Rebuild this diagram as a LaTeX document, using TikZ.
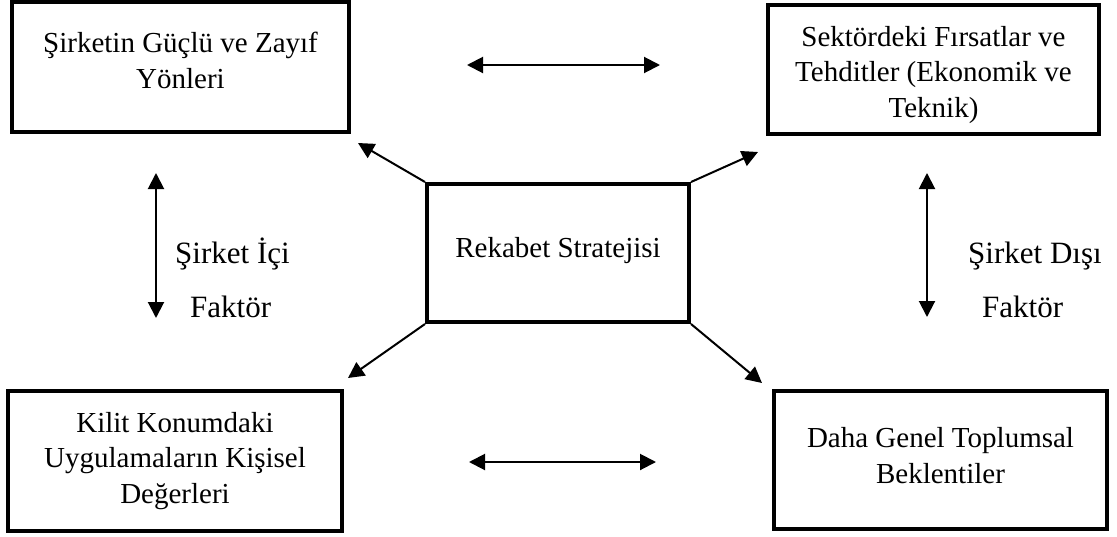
\documentclass[tikz,border=0pt]{standalone}
\usepackage{fontspec}
\setmainfont{Liberation Serif}
\usetikzlibrary{arrows.meta}
\tikzset{
  box/.style={draw, line width=4pt, inner sep=0pt, line join=miter},
  boxtext/.style={align=center, inner sep=0pt, anchor=base,
    font=\fontsize{29}{35.5}\selectfont},
  sidetext/.style={inner sep=0pt, anchor=base west,
    font=\fontsize{31}{36}\selectfont},
  arr/.style={line width=2pt, -{Triangle[length=16pt,width=16pt]}},
  darr/.style={line width=2pt, {Triangle[length=16pt,width=16pt]}-{Triangle[length=16pt,width=16pt]}}
}
\begin{document}
\begin{tikzpicture}[x=1pt, y=-1pt]
\useasboundingbox (0,0) rectangle (1117,536);

% the five boxes
\node[box, minimum width=337pt, minimum height=130pt] (gz) at (180.5,67) {};
\node[box, minimum width=331pt, minimum height=129pt] (ft) at (933.5,69.5) {};
\node[box, minimum width=334pt, minimum height=140pt] (kd) at (175,461) {};
\node[box, minimum width=333pt, minimum height=138pt] (tb) at (940.5,460) {};
\node[box, minimum width=262pt, minimum height=138pt] (rs) at (558,253) {};

% box texts (anchored at the baseline of the last line)
\node[boxtext] (gzt) at (180.5,88) {Şirketin Güçlü ve Zayıf\\Yönleri};
\node[boxtext] (ftt) at (933.5,117) {Sektördeki Fırsatlar ve\\Tehditler (Ekonomik ve\\Teknik)};
\node[boxtext] (kdt) at (175,503) {Kilit Konumdaki\\Uygulamaların Kişisel\\Değerleri};
\node[boxtext] (tbt) at (940.5,483) {Daha Genel Toplumsal\\Beklentiler};
\node[boxtext] (rst) at (558,257) {Rekabet Stratejisi};

% side labels
\node[sidetext] (ic1) at (175,263) {Şirket İçi};
\node[sidetext] (ic2) at (190,317) {Faktör};
\node[sidetext] (dis1) at (968,263) {Şirket Dışı};
\node[sidetext] (dis2) at (982,317) {Faktör};

% free arrow ends
\coordinate (pgz) at (358,143);
\coordinate (pft) at (758,152);
\coordinate (pkd) at (348,378);
\coordinate (ptb) at (762,383);
\coordinate (topL) at (467,65);
\coordinate (topR) at (660,65);
\coordinate (botL) at (469,462);
\coordinate (botR) at (656,462);
\coordinate (lvT) at (156,173);
\coordinate (lvB) at (156,318);
\coordinate (rvT) at (927,173);
\coordinate (rvB) at (927,317);

% arrows from the strategy box
\draw[arr] (rs.north west) -- (pgz);
\draw[arr] (rs.north east) -- (pft);
\draw[arr] (rs.south west) -- (pkd);
\draw[arr] (rs.south east) -- (ptb);

% two-way arrows
\draw[darr] (topL) -- (topR);
\draw[darr] (botL) -- (botR);
\draw[darr] (lvT) -- (lvB);
\draw[darr] (rvT) -- (rvB);
\end{tikzpicture}
\end{document}
